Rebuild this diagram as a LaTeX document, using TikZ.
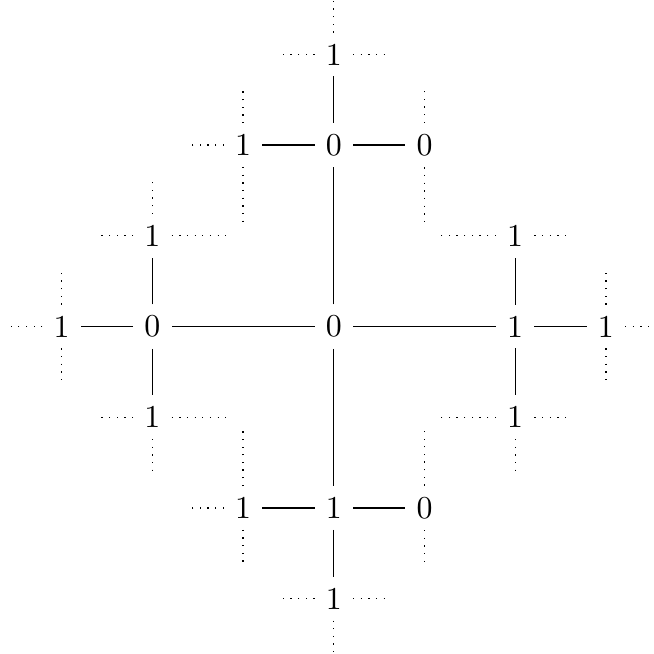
\documentclass[tikz,border=0pt]{standalone}
\usepackage{tikz}
\usetikzlibrary{positioning}

\begin{document}
\begin{tikzpicture}[
    bit/.style={inner sep=0.3333em},
    edge/.style={thin},
    stub/.style={thin, dotted}
]
\useasboundingbox (-3.68,-3.6) rectangle (3.53,3.6);

% Nodes
\node[bit] (c) at (0,0) {0};
\node[bit] (w) at (-2,0) {0};
\node[bit] (ww) at (-3,0) {1};
\node[bit] (wn) at (-2,1) {1};
\node[bit] (ws) at (-2,-1) {1};
\node[bit] (e) at (2,0) {1};
\node[bit] (ee) at (3,0) {1};
\node[bit] (en) at (2,1) {1};
\node[bit] (es) at (2,-1) {1};
\node[bit] (n) at (0,2) {0};
\node[bit] (nn) at (0,3) {1};
\node[bit] (nw) at (-1,2) {1};
\node[bit] (ne) at (1,2) {0};
\node[bit] (s) at (0,-2) {1};
\node[bit] (ss) at (0,-3) {1};
\node[bit] (sw) at (-1,-2) {1};
\node[bit] (se) at (1,-2) {0};

% Edges
\foreach \a/\b in {c/w, c/e, c/n, c/s, w/ww, w/wn, w/ws, e/ee, e/en, e/es,
                   n/nn, n/nw, n/ne, s/ss, s/sw, s/se}
  \draw[edge] (\a) -- (\b);

% Open ends
\foreach \a/\dx/\dy in {nn/0/0.62, nn/-0.62/0, nn/0.62/0,
                        nw/-0.62/0, nw/0/0.62, nw/0/-0.88,
                        ne/0/0.62, ne/0/-0.88,
                        wn/0/0.62, wn/-0.62/0, wn/0.88/0,
                        ww/-0.62/0, ww/0/0.62, ww/0/-0.62,
                        ws/-0.62/0, ws/0.88/0, ws/0/-0.62,
                        sw/-0.62/0, sw/0/0.88, sw/0/-0.62,
                        ss/-0.62/0, ss/0.62/0, ss/0/-0.62,
                        se/0/0.88, se/0/-0.62,
                        es/-0.88/0, es/0.62/0, es/0/-0.62,
                        ee/0.62/0, ee/0/0.62, ee/0/-0.62,
                        en/-0.88/0, en/0.62/0}
  \draw[stub] (\a) -- ++(\dx,\dy);

\end{tikzpicture}
\end{document}
